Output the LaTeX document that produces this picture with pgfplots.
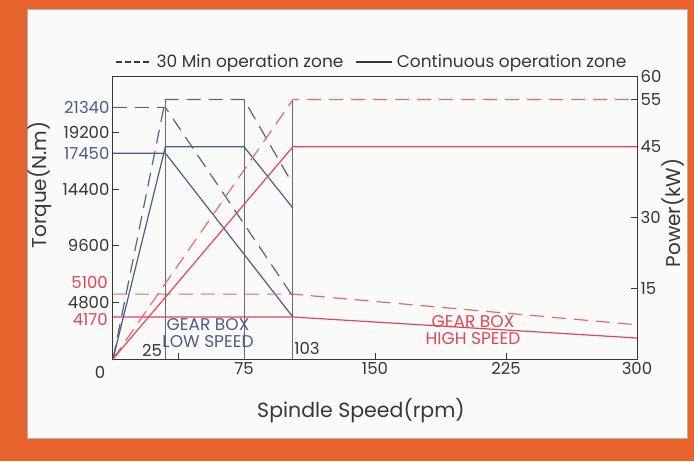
\documentclass[border=0pt]{standalone}
\usepackage{fontspec}
\setmainfont{Poppins}
\usepackage{pgfplots}
\pgfplotsset{compat=1.18}

\definecolor{frame}{RGB}{233,99,47}
\definecolor{panel}{RGB}{250,250,248}
\definecolor{lblue}{RGB}{78,92,140}
\definecolor{dblue}{RGB}{85,100,135}
\definecolor{lred}{RGB}{226,70,90}
\definecolor{dred}{RGB}{230,105,120}
\definecolor{gline}{RGB}{105,105,105}
\definecolor{txt}{RGB}{55,55,55}

\pgfplotsset{
  chart/.style={
    scale only axis, width=524pt, height=283pt,
    xmin=0, xmax=300,
    tick align=inside, major tick length=6pt,
    axis line style={draw=txt, line width=1pt},
    tick style={draw=txt, line width=0.9pt},
    tick label style={font=\fontsize{16.5}{18}\selectfont, text=txt},
    /pgf/number format/assume math mode=true,
    /pgf/number format/1000 sep={},
    scaled ticks=false,
  },
  dsh/.style={dash pattern=on 14pt off 8pt},
}

\begin{document}
\begin{tikzpicture}[x=1pt,y=1pt]
\fill[frame] (-113,-102) rectangle (581,359);
\fill[panel, draw=gray!60] (-86,-79) rectangle (574,350);

% torque axis
\begin{axis}[chart,
  ymin=0, ymax=24000,
  xtick pos=bottom, ytick pos=left,
  xtick={75,150,225,300},
  minor xtick={37.5},
  minor tick length=6pt,
  ytick={4800,9600,14400,19200},
  extra y ticks={17450,21340},
  extra y tick style={yticklabel style={text=lblue}, major tick length=0pt},
  legend style={at={(0.494,1.049)}, anchor=center, draw=none, fill=none,
    font=\fontsize{17}{19}\selectfont, text=txt, legend columns=2,
    /tikz/every odd column/.style={column sep=2pt},
    /tikz/every even column/.style={column sep=10pt}},
  legend image code/.code={\draw[#1] (0pt,0pt) -- (36pt,0pt);},
]
\addlegendimage{txt, line width=1.3pt, dash pattern=on 6pt off 3pt}
\addlegendentry{30 Min operation zone}
\addlegendimage{txt, line width=1.3pt}
\addlegendentry{Continuous operation zone}

\addplot[forget plot, dblue, line width=1.2pt, dsh] coordinates {(0,21340) (30,21340) (103,5300)};
\addplot[forget plot, lblue, line width=1.2pt] coordinates {(0,17450) (30,17450) (103,3560)};
\addplot[forget plot, dred, line width=1.2pt, dsh] coordinates {(0,5500) (103,5500) (300,2900)};
\addplot[forget plot, lred, line width=1.2pt] coordinates {(0,3560) (103,3560) (300,1780)};
\end{axis}

% power axis
\begin{axis}[chart,
  ymin=0, ymax=60,
  axis x line=none, axis y line*=right,
  ytick={15,30,45,55,60},
]
\addplot[gline, line width=1pt] coordinates {(30,0) (30,55)};
\addplot[gline, line width=1pt] coordinates {(75,0) (75,55)};
\addplot[gline, line width=1pt] coordinates {(103,0) (103,55)};
\addplot[dblue, line width=1.2pt, dsh] coordinates {(0,0) (30,55) (75,55) (103,37)};
\addplot[lblue, line width=1.2pt] coordinates {(0,0) (30,45) (75,45) (103,32)};
\addplot[dred, line width=1.2pt, dsh] coordinates {(0,0) (103,55) (300,55)};
\addplot[lred, line width=1.2pt] coordinates {(0,0) (103,45) (300,45)};
\end{axis}

\begin{scope}[every node/.style={font=\fontsize{16.5}{18}\selectfont, inner sep=0pt}]
\node[anchor=east, text=lred] at (-5,77) {5100};
\node[anchor=east, text=lred] at (-5,40) {4170};
\node[text=txt] at (-13,-13) {0};
\node[text=txt] at (39,9) {25};
\node[text=txt] at (194,11) {103};
\node[text=lblue, align=center, font=\fontsize{17}{17}\selectfont] at (95,26) {GEAR BOX\\LOW SPEED};
\node[text=lred, align=center, font=\fontsize{17}{17}\selectfont] at (360,29) {GEAR BOX\\HIGH SPEED};
\node[text=txt, font=\fontsize{20.5}{22}\selectfont] at (248,-52) {Spindle Speed(rpm)};
\node[text=txt, rotate=90, font=\fontsize{20}{22}\selectfont] at (-73,174) {Torque(N.m)};
\node[text=txt, rotate=90, font=\fontsize{20}{22}\selectfont] at (560,146) {Power(kW)};
\end{scope}
\end{tikzpicture}
\end{document}
